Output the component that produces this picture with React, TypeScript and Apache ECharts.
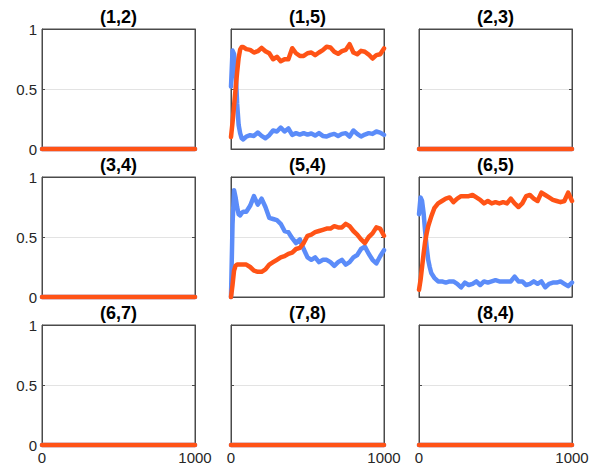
import React, { useEffect, useRef } from "react";
import * as echarts from "echarts";

const panelTitles = ["(1,2)", "(1,5)", "(2,3)", "(3,4)", "(5,4)", "(6,5)", "(6,7)", "(7,8)", "(8,4)"];

const steps = [0, 10, 20, 30, 40, 50, 60, 70, 80, 100, 125, 150, 175, 200, 225, 250, 275, 300, 325, 350, 375, 400, 425, 450, 475, 500, 525, 550, 575, 600, 625, 650, 675, 700, 725, 750, 775, 800, 825, 850, 875, 900, 925, 950, 975, 1000];

const emptySteps = [0, 1000];
const emptyValues = [0, 0];

const blue15 = [0.52, 0.82, 0.79, 0.66, 0.38, 0.2, 0.13, 0.09, 0.08, 0.104, 0.115, 0.109, 0.137, 0.109, 0.09, 0.115, 0.154, 0.146, 0.179, 0.146, 0.171, 0.118, 0.132, 0.12, 0.132, 0.12, 0.129, 0.112, 0.132, 0.109, 0.104, 0.118, 0.126, 0.109, 0.126, 0.132, 0.104, 0.154, 0.126, 0.104, 0.12, 0.132, 0.126, 0.146, 0.137, 0.118];
const orange15 = [0.1, 0.22, 0.36, 0.5, 0.64, 0.76, 0.83, 0.85, 0.85, 0.832, 0.826, 0.804, 0.815, 0.843, 0.815, 0.798, 0.748, 0.768, 0.731, 0.748, 0.748, 0.84, 0.798, 0.776, 0.776, 0.798, 0.804, 0.782, 0.804, 0.824, 0.852, 0.846, 0.81, 0.793, 0.815, 0.826, 0.874, 0.804, 0.79, 0.818, 0.81, 0.787, 0.754, 0.782, 0.79, 0.838];

const blue54 = [0, 0.61, 0.89, 0.83, 0.75, 0.69, 0.68, 0.7, 0.71, 0.71, 0.76, 0.84, 0.77, 0.82, 0.75, 0.66, 0.65, 0.64, 0.61, 0.55, 0.54, 0.49, 0.45, 0.48, 0.4, 0.33, 0.31, 0.33, 0.29, 0.31, 0.31, 0.29, 0.26, 0.29, 0.31, 0.27, 0.29, 0.33, 0.35, 0.4, 0.42, 0.36, 0.31, 0.28, 0.34, 0.39];
const orange54 = [0, 0.1, 0.22, 0.26, 0.27, 0.27, 0.27, 0.27, 0.27, 0.27, 0.25, 0.22, 0.21, 0.21, 0.23, 0.27, 0.29, 0.31, 0.33, 0.34, 0.36, 0.37, 0.4, 0.41, 0.45, 0.51, 0.52, 0.54, 0.55, 0.56, 0.57, 0.57, 0.59, 0.58, 0.58, 0.61, 0.59, 0.55, 0.52, 0.48, 0.45, 0.5, 0.53, 0.58, 0.57, 0.51];

const blue65 = [0.69, 0.83, 0.8, 0.7, 0.55, 0.42, 0.31, 0.25, 0.2, 0.16, 0.13, 0.13, 0.12, 0.13, 0.13, 0.11, 0.08, 0.12, 0.1, 0.11, 0.13, 0.1, 0.13, 0.12, 0.13, 0.14, 0.13, 0.13, 0.13, 0.13, 0.17, 0.13, 0.13, 0.1, 0.11, 0.13, 0.11, 0.13, 0.08, 0.11, 0.12, 0.12, 0.13, 0.11, 0.09, 0.12];
const orange65 = [0.06, 0.14, 0.25, 0.36, 0.46, 0.53, 0.59, 0.63, 0.67, 0.74, 0.78, 0.8, 0.82, 0.83, 0.79, 0.82, 0.84, 0.84, 0.84, 0.85, 0.83, 0.81, 0.78, 0.8, 0.78, 0.79, 0.78, 0.79, 0.78, 0.82, 0.78, 0.75, 0.78, 0.84, 0.85, 0.82, 0.8, 0.87, 0.85, 0.83, 0.81, 0.8, 0.79, 0.8, 0.87, 0.8];

type Panel = { title: string; x: number[]; blue: number[]; orange: number[] };

const panels: Panel[] = [
  { title: panelTitles[0], x: emptySteps, blue: emptyValues, orange: emptyValues },
  { title: panelTitles[1], x: steps, blue: blue15, orange: orange15 },
  { title: panelTitles[2], x: emptySteps, blue: emptyValues, orange: emptyValues },
  { title: panelTitles[3], x: emptySteps, blue: emptyValues, orange: emptyValues },
  { title: panelTitles[4], x: steps, blue: blue54, orange: orange54 },
  { title: panelTitles[5], x: steps, blue: blue65, orange: orange65 },
  { title: panelTitles[6], x: emptySteps, blue: emptyValues, orange: emptyValues },
  { title: panelTitles[7], x: emptySteps, blue: emptyValues, orange: emptyValues },
  { title: panelTitles[8], x: emptySteps, blue: emptyValues, orange: emptyValues },
];

const colLefts = [42, 231, 419];
const rowTops = [29, 177, 325];
const plotW = 153;
const plotH = 120;
const BLUE = "#5b8cf9";
const ORANGE = "#ff5316";
const BOX = "#4a4a4a";
const TXT = "#262626";
const FONT = "Liberation Sans, Arial, sans-serif";

export default function App() {
  const ref = useRef<HTMLDivElement>(null);
  useEffect(() => {
    if (!ref.current) return;
    const chart = echarts.init(ref.current, null, { renderer: "svg" });
    const grid: any[] = [];
    const xAxis: any[] = [];
    const yAxis: any[] = [];
    const series: any[] = [];
    const title: any[] = [];
    panels.forEach((p, i) => {
      const row = Math.floor(i / 3);
      const col = i % 3;
      grid.push({
        left: colLefts[col],
        top: rowTops[row],
        width: plotW,
        height: plotH,
        show: true,
        borderColor: BOX,
        borderWidth: 1,
        backgroundColor: "#fff",
      });
      title.push({
        text: p.title,
        left: colLefts[col] + plotW / 2,
        top: rowTops[row] - 12,
        textAlign: "center",
        textVerticalAlign: "middle",
        padding: 0,
        textStyle: { fontFamily: FONT, fontSize: 18, fontWeight: "bold", color: "#000" },
      });
      xAxis.push({
        type: "value",
        gridIndex: i,
        min: 0,
        max: 1000,
        interval: 1000,
        axisLine: { show: true, lineStyle: { color: BOX, width: 1 } },
        axisTick: { show: false },
        axisLabel: {
          show: row === 2,
          fontFamily: FONT,
          fontSize: 15,
          color: TXT,
          margin: 5,
          formatter: (v: number) => String(v),
        },
        splitLine: { show: true, lineStyle: { color: BOX, width: 1 } },
      });
    });
    panels.forEach((p, i) => {
      const col = i % 3;
      yAxis.push({
        type: "value",
        gridIndex: i,
        min: 0,
        max: 1,
        interval: 0.5,
        axisLine: { show: true, lineStyle: { color: BOX, width: 1 } },
        axisTick: { show: true, inside: true, length: 3, lineStyle: { color: BOX } },
        axisLabel: {
          show: col === 0,
          fontFamily: FONT,
          fontSize: 15,
          color: TXT,
          margin: 5,
          formatter: (v: number) => String(v),
        },
        splitLine: { show: true, lineStyle: { color: [BOX, "#e3e3e3"], width: 1 } },
      });
    });
    panels.forEach((p, i) => {
      yAxis.push({
        type: "value",
        gridIndex: i,
        position: "right",
        min: 0,
        max: 1,
        interval: 0.5,
        axisLine: { show: true, lineStyle: { color: BOX, width: 1 } },
        axisTick: { show: true, inside: true, length: 3, lineStyle: { color: BOX } },
        axisLabel: { show: false },
        splitLine: { show: false },
      });
    });
    panels.forEach((p, i) => {
      const mk = (vals: number[], color: string) => ({
        type: "line",
        xAxisIndex: i,
        yAxisIndex: i,
        data: p.x.map((s, k) => [s, vals[k]]),
        showSymbol: false,
        symbol: "none",
        clip: false,
        silent: true,
        lineStyle: { color, width: 4.5, join: "round", cap: "round" },
        itemStyle: { color },
        emphasis: { disabled: true },
      });
      series.push(mk(p.blue, BLUE));
      series.push(mk(p.orange, ORANGE));
    });
    chart.setOption({
      animation: false,
      backgroundColor: "#fff",
      title,
      grid,
      xAxis,
      yAxis,
      series,
    });
    return () => chart.dispose();
  }, []);
  return (
    <div
      ref={ref}
      style={{ position: "absolute", left: 0, top: 0, width: 604, height: 470 }}
    />
  );
}
